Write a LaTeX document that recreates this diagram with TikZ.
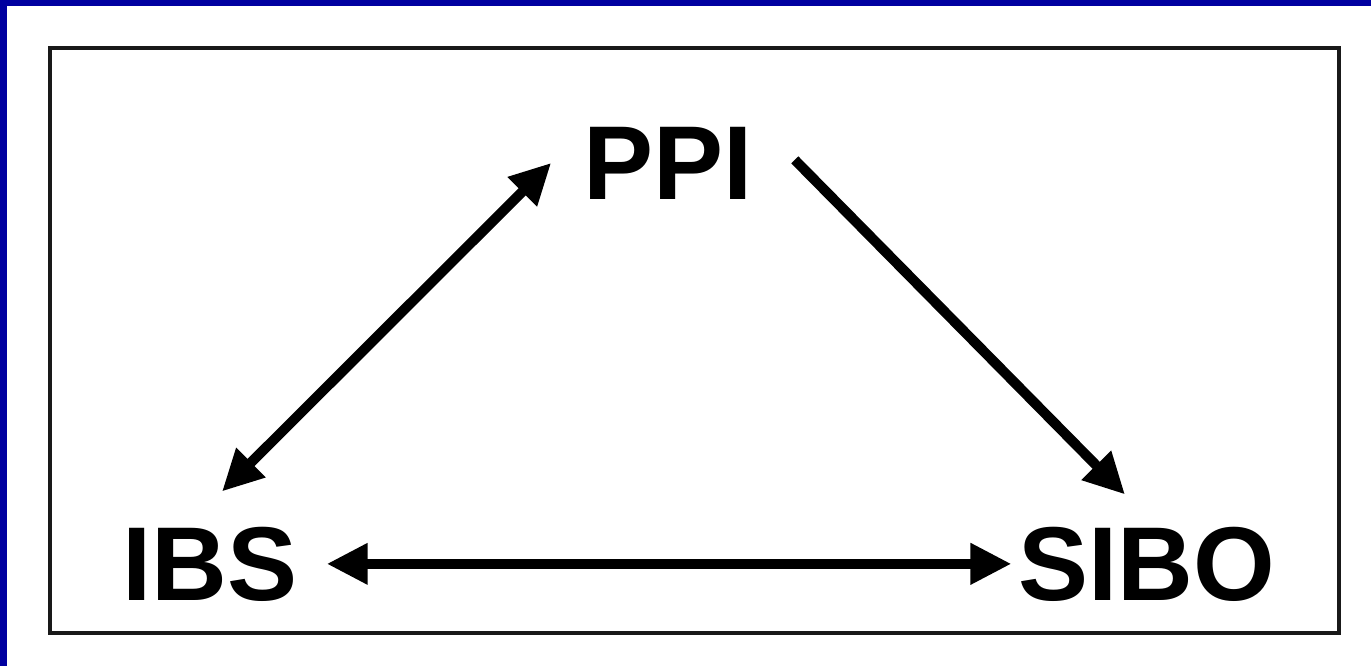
\documentclass[tikz,border=0pt]{standalone}
\usepackage{fontspec}
\setmainfont{Liberation Sans}
\usepackage{tikz}
\usetikzlibrary{arrows.meta}

\definecolor{slideblue}{RGB}{0,0,160}

\begin{document}
\begin{tikzpicture}[x=1pt,y=1pt,
term/.style={font=\fontsize{105}{105}\selectfont\bfseries,inner sep=0pt,anchor=base},
arr/.style={line width=10pt,>={Triangle[length=41pt,width=39pt]}}]
% slide background
\fill[slideblue] (0,0) rectangle (1371,-666);
\fill[white] (7,-6) rectangle (1371,-666);
\useasboundingbox (0,0) rectangle (1371,-666);
\draw[line width=3.5pt,black!90] (50,-48) rectangle (1339,-633);
% terms
\node[term] (ppi) at (668,-199) {PPI};
\node[term] (ibs) at (210,-600) {IBS};
\node[term] (sibo) at (1147,-600) {SIBO};
\path[arr]
([xshift=12pt,yshift=35pt]ibs.north) edge[<->] ([xshift=-32pt]ppi.west)
([xshift=42pt,yshift=3pt]ppi.east) edge[->] ([xshift=-22pt,yshift=32pt]sibo.north)
([xshift=29pt]ibs.east) edge[<->] ([xshift=-7pt]sibo.west);
\end{tikzpicture}
\end{document}
